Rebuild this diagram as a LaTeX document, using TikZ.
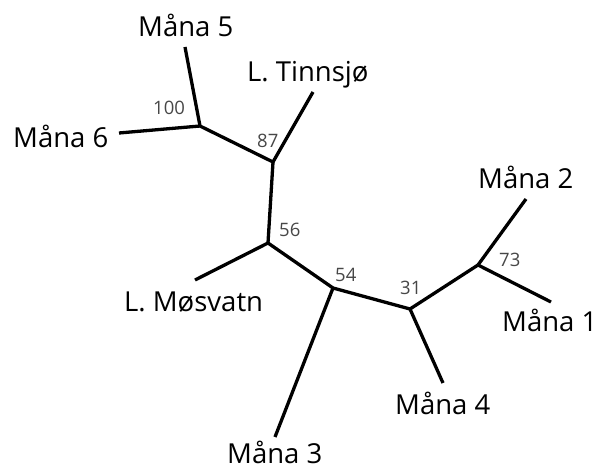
\documentclass[tikz,border=0pt]{standalone}
\usepackage{fontspec}
\setmainfont{Open Sans}
\usepackage{xcolor}

\begin{document}
\begin{tikzpicture}[x=1pt, y=-1pt,
    branch/.style={line width=3.3pt, black},
    leaflabel/.style={anchor=base west, inner sep=0pt, font=\fontsize{27.5}{30}\selectfont, text=black},
    support/.style={anchor=base west, inner sep=0pt, font=\fontsize{18.5}{20}\selectfont, text=black!72}]

  \useasboundingbox (0,0) rectangle (598,470);

  % ==========================================
  % Inner nodes of the tree
  % ==========================================
  \coordinate (n100) at (200,126);
  \coordinate (n87) at (273,162);
  \coordinate (n56) at (268,243);
  \coordinate (n54) at (333,288);
  \coordinate (n31) at (410,309);
  \coordinate (n73) at (478,265);

  % Leaf ends
  \coordinate (m5) at (185,47);
  \coordinate (m6) at (119,133);
  \coordinate (tinn) at (313,92);
  \coordinate (mosv) at (195,280);
  \coordinate (m3) at (275,437);
  \coordinate (m4) at (443,383);
  \coordinate (m2) at (526,199);
  \coordinate (m1) at (551,302);

  % ==========================================
  % Branches
  % ==========================================
  \draw[branch] (m5) -- (n100);
  \draw[branch] (m6) -- (n100);
  \draw[branch] (n100) -- (n87);
  \draw[branch] (tinn) -- (n87);
  \draw[branch] (n87) -- (n56);
  \draw[branch] (mosv) -- (n56);
  \draw[branch] (n56) -- (n54);
  \draw[branch] (m3) -- (n54);
  \draw[branch] (n54) -- (n31);
  \draw[branch] (m4) -- (n31);
  \draw[branch] (n31) -- (n73);
  \draw[branch] (m2) -- (n73);
  \draw[branch] (m1) -- (n73);

  % ==========================================
  % Leaf labels
  % ==========================================
  \node[leaflabel] (lm5) at (138,37) {Måna 5};
  \node[leaflabel] (lm6) at (13,148) {Måna 6};
  \node[leaflabel] (ltinn) at (247,82) {L. Tinnsjø};
  \node[leaflabel] (lmosv) at (124,312) {L. Møsvatn};
  \node[leaflabel] (lm3) at (227,464) {Måna 3};
  \node[leaflabel] (lm4) at (395,415) {Måna 4};
  \node[leaflabel] (lm2) at (478,189) {Måna 2};
  \node[leaflabel] (lm1) at (502,332) {Måna 1};

  % Support values
  \node[support] (s100) at (153,115) {100};
  \node[support] (s87) at (257,148) {87};
  \node[support] (s56) at (279,237) {56};
  \node[support] (s54) at (335,282) {54};
  \node[support] (s31) at (400,295) {31};
  \node[support] (s73) at (499,267) {73};

\end{tikzpicture}
\end{document}
